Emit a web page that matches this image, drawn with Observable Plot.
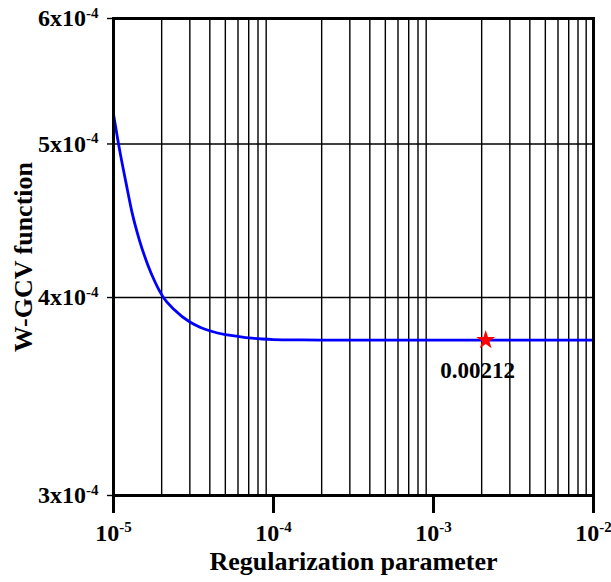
<!DOCTYPE html>
<html>
<head>
<meta charset="utf-8">
<script src="https://cdn.jsdelivr.net/npm/d3@7"></script>
<script src="https://cdn.jsdelivr.net/npm/@observablehq/plot@0.6"></script>
<style>
  body { margin: 0; background: #fff; }
</style>
</head>
<body>
<div id="chart"></div>
<script>
// Data
const lambda = [1e-5, 1.075e-5, 1.2e-5, 1.31e-5, 1.45e-5, 1.63e-5, 1.8e-5, 2.05e-5, 2.4e-5, 3e-5, 3.5e-5, 4.04e-5, 5e-5, 6e-5, 7e-5, 8.5e-5, 1e-4, 1.5e-4, 2e-4, 3e-4, 5e-4, 1e-3, 2e-3, 5e-3, 1e-2];
const wgcv   = [5.22e-4, 5.0e-4, 4.72e-4, 4.52e-4, 4.35e-4, 4.20e-4, 4.10e-4, 4.00e-4, 3.93e-4, 3.86e-4, 3.83e-4, 3.81e-4, 3.79e-4, 3.78e-4, 3.772e-4, 3.766e-4, 3.763e-4, 3.761e-4, 3.76e-4, 3.76e-4, 3.76e-4, 3.76e-4, 3.76e-4, 3.76e-4, 3.76e-4];
const optLambda = [0.00212];
const optValue = [3.76e-4];
const optLabel = ["0.00212"];
const xMajorTicks = [1e-5, 1e-4, 1e-3, 1e-2];
const xTickLabels = ["10^-5", "10^-4", "10^-3", "10^-2"];
const yTicks = [3e-4, 4e-4, 5e-4, 6e-4];
const yTickLabels = ["3x10^-4", "4x10^-4", "5x10^-4", "6x10^-4"];
const yGrid = [4e-4, 5e-4];

const xMinor = [];
for (const d of [1e-5, 1e-4, 1e-3]) for (let k = 2; k <= 9; k++) xMinor.push(+(k * d).toPrecision(3));

const curve = lambda.map((x, i) => ({x, y: wgcv[i]}));
const opt = optLambda.map((x, i) => ({x, y: optValue[i], label: optLabel[i]}));

const FONT = '"Liberation Serif", "Times New Roman", serif';

const plot = Plot.plot({
  width: 611,
  height: 582,
  marginLeft: 113,
  marginRight: 18,
  marginTop: 18,
  marginBottom: 87,
  style: {fontFamily: FONT, fontWeight: "bold", fontSize: "20px", background: "#fff", color: "#000"},
  x: {type: "log", domain: [1e-5, 1e-2]},
  y: {type: "log", domain: [3e-4, 6e-4]},
  marks: [
    Plot.ruleX(xMinor, {stroke: "#000", strokeWidth: 1.4}),
    Plot.ruleY(yGrid, {stroke: "#000", strokeWidth: 1.4}),
    Plot.line(curve, {x: "x", y: "y", stroke: "#0000ff", strokeWidth: 2.8, curve: "monotone-x"}),
    Plot.dot(opt, {x: "x", y: "y", symbol: "star", fill: "#ff0000", stroke: "none", r: 6}),
    Plot.text(opt, {x: "x", y: "y", text: "label", dx: -8, dy: 31, fontSize: 20, fontWeight: "bold", fill: "#000"}),
    Plot.frame({stroke: "#000", strokeWidth: 3}),
    Plot.axisX({
      ticks: xMajorTicks,
      tickFormat: (d) => xTickLabels[xMajorTicks.indexOf(d)],
      tickSize: 18,
      strokeWidth: 3,
      tickPadding: 10,
      fontSize: 20,
      label: "Regularization parameter",
      labelAnchor: "center",
      labelOffset: 74,
      labelArrow: "none"
    }),
    Plot.axisY({
      ticks: yTicks,
      tickFormat: (d) => yTickLabels[yTicks.indexOf(d)],
      tickSize: 6,
      strokeWidth: 1.4,
      tickPadding: 9,
      fontSize: 20,
      label: "W-GCV function",
      labelAnchor: "center",
      labelOffset: 100,
      labelArrow: "none"
    })
  ]
});

const svg = d3.select(plot);
function superscript(sel) {
  sel.each(function () {
    const t = d3.select(this);
    const s = t.text();
    const i = s.indexOf("^");
    if (i < 0) return;
    t.text("");
    t.append("tspan").text(s.slice(0, i));
    t.append("tspan").attr("dy", "-0.55em").style("font-size", "15px").text(s.slice(i + 1));
  });
}
superscript(svg.selectAll('g[aria-label="x-axis tick label"] text'));
superscript(svg.selectAll('g[aria-label="y-axis tick label"] text'));
svg.selectAll("text").style("font-family", FONT).style("font-weight", "bold");
svg.selectAll('g[aria-label="x-axis tick label"] text, g[aria-label="y-axis tick label"] text').style("font-size", "24px");
svg.selectAll('g[aria-label="text"] text').style("font-size", "23px");
svg.selectAll('g[aria-label="x-axis label"] text, g[aria-label="y-axis label"] text').style("font-size", "26px");

document.getElementById("chart").appendChild(plot);
</script>
</body>
</html>
